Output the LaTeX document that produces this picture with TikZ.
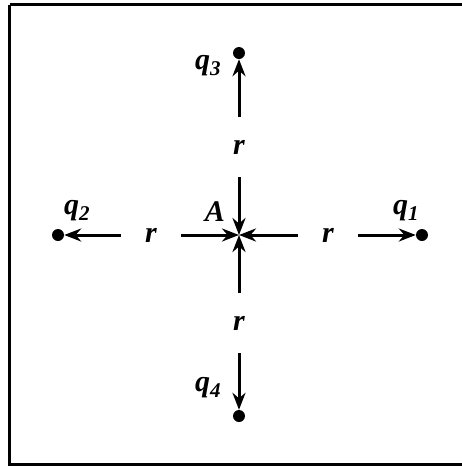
\documentclass[tikz,border=0pt]{standalone}
\usepackage{fontspec}
\setmainfont{Liberation Serif}
\usetikzlibrary{arrows.meta, positioning}

\begin{document}
\begin{tikzpicture}[x=1pt, y=-1pt,
    every node/.style={font=\fontsize{30}{32}\selectfont\itshape\bfseries},
    charge/.style={circle, fill=black, inner sep=0pt, minimum size=12pt},
    dist/.style={circle, inner sep=0pt, minimum size=60pt},
    field/.style={line width=3pt, -{Stealth[length=17pt, width=13pt]}},
]
\useasboundingbox (0,0) rectangle (462,467);

% ---------------------------------------------------------------- frame
\draw[line width=2.8pt] (9.5,4.5) -- (470,4.5);
\draw[line width=2.8pt] (9.5,4.5) -- (9.5,464.5) -- (470,464.5);

% ---------------------------------------------------------------- point A and the charges
\coordinate (A) at (239,235);
\node[charge] (q1) at (422,235) {};
\node[charge] (q2) at (58,235) {};
\node[charge] (q3) at (239,53) {};
\node[charge] (q4) at (239,416) {};

\node[dist] (r1) at (328,235) {};
\node[dist] (r2) at (151,235) {};
\node[dist] (r3) at (239,147) {};
\node[dist] (r4) at (239,323) {};
\foreach \n in {r1,r2,r3,r4}
    \node at (\n) {r};

% ---------------------------------------------------------------- labels
\node at (406,211) {q\textsubscript{1}};
\node at (77,211) {q\textsubscript{2}};
\node at (208,66) {q\textsubscript{3}};
\node at (208,388) {q\textsubscript{4}};
\node at (215,212) {A};

% ---------------------------------------------------------------- field vectors
\foreach \n in {r1,r2,r3,r4}
    \draw[field] (\n) -- (A);
\draw[field] (r1) -- (q1);
\draw[field] (r2) -- (q2);
\draw[field] (r3) -- (q3);
\draw[field] (r4) -- (q4);

\end{tikzpicture}
\end{document}
